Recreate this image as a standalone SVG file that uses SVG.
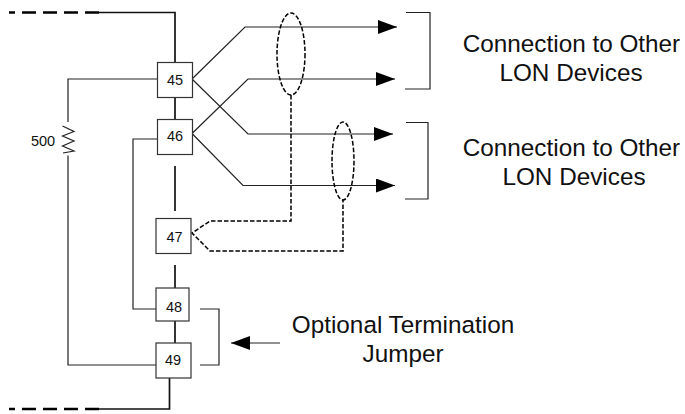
<svg xmlns="http://www.w3.org/2000/svg" width="685" height="414" viewBox="0 0 685 414">
<style>
text{font-family:"Liberation Sans",Arial,sans-serif;fill:#111;text-anchor:middle}
.n{font-size:14.500px}.l{font-size:24.300px}
.box{fill:#fff;stroke:#333;stroke-width:1.200}
.t{fill:none;stroke:#222;stroke-width:1.200}
.k{fill:none;stroke:#111;stroke-width:1.700}
.d{fill:none;stroke:#000;stroke-width:1.500;stroke-dasharray:4.500 2}
.h{fill:none;stroke:#000;stroke-width:2.500;stroke-dasharray:14 7}
</style>
<defs><marker id="a" markerUnits="userSpaceOnUse" markerWidth="20" markerHeight="14" refX="19" refY="7" orient="auto"><path d="M0,0L19,7L0,14z" fill="#000"/></marker></defs>
<g id="connectors">
<path class="h" d="M99,12.500H9"/>
<path class="h" d="M99,409H9"/>
<path class="k" d="M99,12.500H175V62M175,98V119M175,166V211M175,265V288M175,321V343M169.500,378V409H99"/>
<path class="t" d="M157,79H68V122M68,155.500V365H156M157,139H133V309H156"/>
<path class="t" d="M62.500,126L74,131.500L62.500,136L74,141L62.500,146L74,151L63,153"/>
<path class="t" marker-end="url(#a)" d="M192,79L245,27H397"/>
<path class="t" marker-end="url(#a)" d="M192,133.500L248,79H395"/>
<path class="t" marker-end="url(#a)" d="M192,79L248,134H393"/>
<path class="t" marker-end="url(#a)" d="M192,133.500L243,185.500H395"/>
<path class="t" d="M406,12.500H430V89H405M406,122.500H428V199H405M200,309H219V365H200"/>
<path class="t" marker-end="url(#a)" d="M280,343H231"/>
<ellipse class="d" cx="291" cy="54" rx="14" ry="41"/>
<ellipse class="d" cx="343" cy="161" rx="11" ry="39"/>
<path class="d" d="M291,95V221H210L192,233L210,251H343V200"/>
</g>
<g id="r500"><text class="n" x="43" y="146">500</text></g>
<g id="n45"><rect class="box" x="157.500" y="62.500" width="35" height="35"/><text class="n" x="175" y="85">45</text></g>
<g id="n46"><rect class="box" x="157.500" y="119.500" width="35" height="35"/><text class="n" x="175" y="141">46</text></g>
<g id="n47"><rect class="box" x="156" y="218.500" width="35" height="35"/><text class="n" x="174.500" y="242">47</text></g>
<g id="n48"><rect class="box" x="156" y="288" width="33" height="33"/><text class="n" x="174" y="312">48</text></g>
<g id="n49"><rect class="box" x="156" y="343" width="35" height="35"/><text class="n" x="173" y="365">49</text></g>
<g id="label1"><text class="l" x="571.500" y="52">Connection to Other</text><text class="l" x="571" y="81">LON Devices</text></g>
<g id="label2"><text class="l" x="571.500" y="156">Connection to Other</text><text class="l" x="574" y="185">LON Devices</text></g>
<g id="label3"><text class="l" x="403" y="333">Optional Termination</text><text class="l" x="403" y="362">Jumper</text></g>
</svg>
